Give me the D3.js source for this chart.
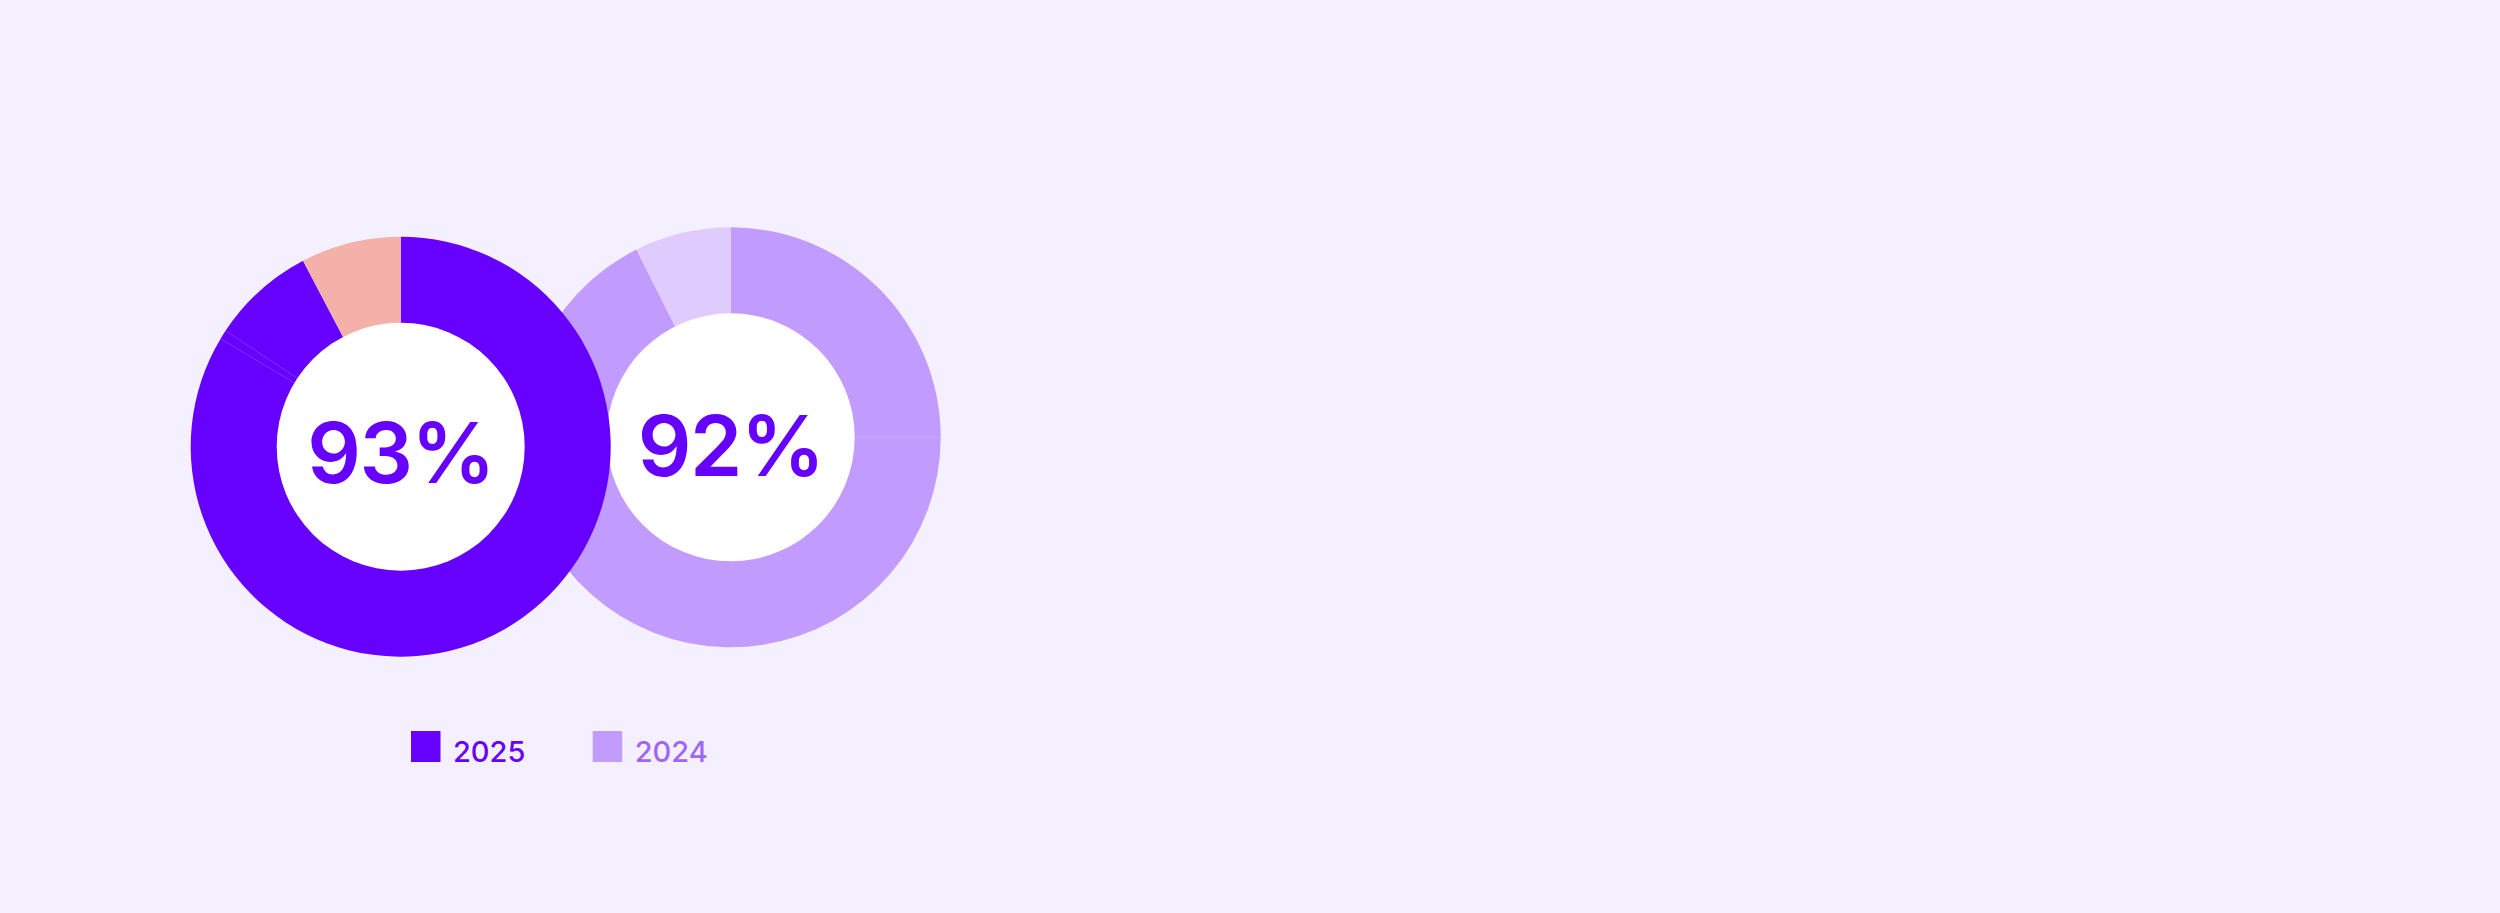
<!DOCTYPE html>
<html>
<head>
<meta charset="utf-8">
<script src="https://cdn.jsdelivr.net/npm/d3@7"></script>
<style>
  html, body { margin: 0; padding: 0; background: #f5f0ff; }
  svg { display: block; }
</style>
</head>
<body>
<svg id="chart" width="2500" height="913"></svg>
<script>
// ---- data ----
const years = ["2025", "2024"];
const centerLabels = ["93%", "92%"];
const values2025 = [83.6, 0.7, 8.0, 7.7];
const values2024 = [25, 67.6, 7.4];

// ---- styles ----
const colors2025 = ["#6600ff", "#6600ff", "#6600ff", "#f4b1a9"];
const colors2024 = ["#c29bff", "#c29bff", "#e0cbff"];
const legendSwatch = ["#6600ff", "#c29bff"];
const legendText = ["#6600ff", "#9f66ff"];

const svg = d3.select("#chart");
svg.append("rect").attr("width", 2500).attr("height", 913).attr("fill", "#f5f0ff");

const outerR = 210, innerR = 124;
const pie = d3.pie().sort(null).value(d => d);
const arc = d3.arc().innerRadius(innerR - 1).outerRadius(outerR);

function donut(cx, cy, values, colors, label, dy) {
  const g = svg.append("g").attr("transform", `translate(${cx},${cy})`);
  g.selectAll("path")
    .data(pie(values))
    .join("path")
    .attr("d", arc)
    .attr("fill", (d, i) => colors[i]);
  g.append("circle").attr("r", innerR).attr("fill", "#ffffff");
  g.append("text")
    .attr("text-anchor", "middle")
    .attr("y", dy)
    .attr("font-family", "Inter, 'Noto Sans', sans-serif")
    .attr("font-weight", 600)
    .attr("font-size", 84)
    .attr("letter-spacing", "-1.5")
    .attr("fill", "#6600ff")
    .text(label);
}

// 2024 drawn first (behind), 2025 on top
donut(730.7, 437.3, values2024, colors2024, centerLabels[1], 39);
donut(400.7, 446.7, values2025, colors2025, centerLabels[0], 36);

// ---- legend ----
const legendX = d3.scalePoint().domain(years).range([411, 592.7]);
const lg = svg.append("g");
years.forEach((y, i) => {
  const x = legendX(y);
  lg.append("rect")
    .attr("x", x).attr("y", 731)
    .attr("width", 29.5).attr("height", 31)
    .attr("fill", legendSwatch[i]);
  lg.append("text")
    .attr("x", x + 42).attr("y", 762)
    .attr("font-family", "Inter, 'Noto Sans', sans-serif")
    .attr("font-weight", 500)
    .attr("font-size", 29)
    .attr("fill", legendText[i])
    .text(y);
});
</script>
</body>
</html>
